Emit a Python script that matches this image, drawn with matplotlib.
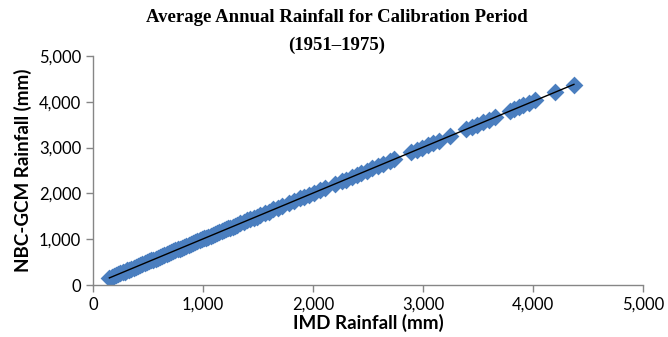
import numpy as np
import matplotlib
matplotlib.use("Agg")
import matplotlib.pyplot as plt
from matplotlib.ticker import FuncFormatter

# observed (IMD) vs simulated (NBC-GCM) average annual rainfall, mm
imd_rain = [
    150, 170, 190, 210, 230, 250, 270, 290, 310, 330,
    350, 370, 390, 410, 430, 450, 470, 490, 510, 530,
    550, 570, 590, 610, 630, 650, 670, 690, 710, 730,
    750, 770, 790, 810, 830, 850, 870, 890, 910, 930,
    950, 970, 990, 1010, 1030, 1050, 1070, 1090, 1110, 1130,
    1150, 1170, 1190, 1210, 1230, 1250, 1270, 1290, 1310, 1340,
    1370, 1400, 1430, 1460, 1490, 1520, 1560, 1600, 1640, 1680,
    1720, 1780, 1830, 1880, 1920, 1960, 2010, 2060, 2110, 2200,
    2260, 2300, 2350, 2400, 2440, 2490, 2540, 2590, 2640, 2700,
    2740, 2890, 2940, 2990, 3040, 3090, 3140, 3240, 3390, 3440,
    3490, 3540, 3600, 3650, 3790, 3830, 3870, 3910, 3960, 4020,
    4200, 4370,
]
gcm_rain = [
    160, 175, 200, 215, 240, 255, 280, 290, 320, 335,
    360, 375, 395, 420, 435, 455, 480, 495, 515, 540,
    555, 575, 600, 615, 640, 655, 680, 695, 715, 740,
    755, 780, 795, 815, 840, 855, 875, 900, 915, 935,
    960, 975, 995, 1020, 1035, 1055, 1080, 1095, 1115, 1140,
    1155, 1175, 1200, 1215, 1240, 1255, 1275, 1300, 1320, 1350,
    1375, 1410, 1435, 1470, 1495, 1530, 1570, 1605, 1650, 1690,
    1730, 1790, 1840, 1890, 1930, 1970, 2020, 2070, 2120, 2210,
    2270, 2300, 2360, 2410, 2450, 2500, 2550, 2600, 2650, 2710,
    2750, 2900, 2950, 3000, 3050, 3100, 3150, 3250, 3400, 3450,
    3500, 3550, 3610, 3660, 3800, 3840, 3880, 3920, 3970, 4030,
    4210, 4360,
]

x = np.array(imd_rain)
y = np.array(gcm_rain)

fig = plt.figure(figsize=(6.68, 3.37), dpi=100)
ax = fig.add_axes([0.139, 0.154, 0.824, 0.68])

ax.scatter(x, y, marker="D", s=82, color="#4A7EBF", linewidths=0, zorder=2)

# linear trend line through the scatter
slope, icpt = np.polyfit(x, y, 1)
xs = np.array([x.min(), x.max()])
ax.plot(xs, slope * xs + icpt, color="black", lw=1.0, zorder=3)

ax.set_xlim(0, 5000)
ax.set_ylim(0, 5000)
ax.set_xticks(range(0, 5001, 1000))
ax.set_yticks(range(0, 5001, 1000))
fmt = FuncFormatter(lambda v, p: f"{int(v):,}")
ax.xaxis.set_major_formatter(fmt)
ax.yaxis.set_major_formatter(fmt)

for side in ("top", "right"):
    ax.spines[side].set_visible(False)
for side in ("left", "bottom"):
    ax.spines[side].set_color("#868686")
    ax.spines[side].set_linewidth(1.0)
ax.tick_params(colors="#868686", length=5, width=1.0, labelcolor="black",
               labelsize=12)
for lbl in ax.get_xticklabels() + ax.get_yticklabels():
    lbl.set_family("Lato")

ax.set_xlabel("IMD Rainfall (mm)", fontsize=13.5, fontweight="bold",
              family="Lato", labelpad=1)
ax.set_ylabel("NBC-GCM Rainfall (mm)", fontsize=13.5, fontweight="bold",
              family="Lato", labelpad=5)

fig.suptitle("Average Annual Rainfall for Calibration Period\n(1951\u20131975)",
             x=0.504, y=0.972, fontsize=13.5, fontweight="bold",
             family="Liberation Serif", linespacing=1.75)

fig.savefig("out.png", dpi=100)
